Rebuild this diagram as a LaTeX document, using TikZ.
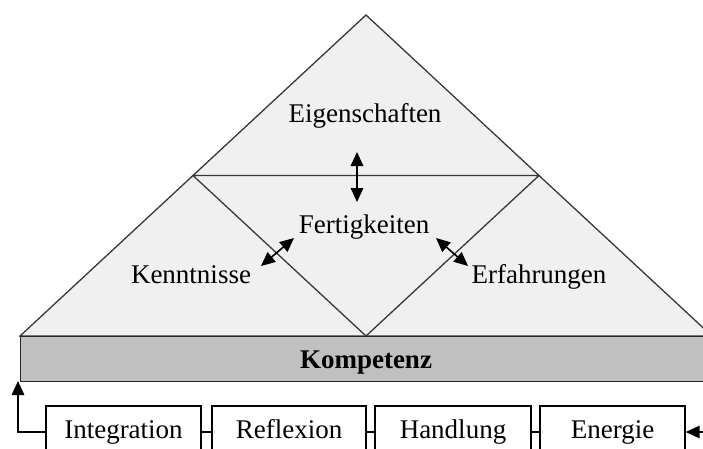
\documentclass[tikz,border=0pt]{standalone}
\usepackage{fontspec}
\setmainfont{Liberation Serif}
\usetikzlibrary{arrows.meta}
\definecolor{trifill}{HTML}{F0F0F0}
\definecolor{barfill}{HTML}{C0C0C0}
\definecolor{triline}{HTML}{383838}
\begin{document}
\begin{tikzpicture}[x=1pt,y=-1pt,
  tline/.style={draw=triline, line width=1.3pt, line join=miter},
  lbl/.style={font=\fontsize{27}{30}\selectfont, inner sep=0pt, anchor=base},
  barbox/.style={draw=black!85, fill=barfill, line width=1.4pt, anchor=north west, inner sep=0pt},
  stepbox/.style={draw=black, fill=white, line width=1.3pt, minimum height=52pt, inner sep=0pt,
    font=\fontsize{27}{30}\selectfont, text height=18pt, text depth=6pt},
  dbl/.style={line width=1.6pt, {Triangle[length=14pt,width=12.5pt]}-{Triangle[length=14pt,width=12.5pt]}},
  conn/.style={line width=1.4pt},
  connarrow/.style={line width=1.6pt, -{Triangle[length=14pt,width=12.5pt]}}
]
\useasboundingbox (0,0) rectangle (703,448);
\clip (0,0) rectangle (703,448);
% pyramid
\coordinate (A) at (366,15);
\coordinate (L) at (20,336);
\coordinate (R) at (712,336);
\coordinate (ML) at (193,175.5);
\coordinate (MR) at (539,175.5);
\coordinate (B) at (366,336);
\fill[trifill] (A) -- (L) -- (R) -- cycle;
\draw[tline] (A) -- (L) -- (R) -- cycle;
\draw[tline] (ML) -- (MR) -- (B) -- cycle;
% bar
\node[barbox, minimum width=692pt, minimum height=45pt] (bar) at (20,336) {};
\node[lbl, font=\fontsize{27}{30}\selectfont\bfseries] (komp) at (366,368) {Kompetenz};
% labels
\node[lbl] (eig) at (365,122) {Eigenschaften};
\node[lbl] (fer) at (364,233) {Fertigkeiten};
\node[lbl] (ken) at (191,283) {Kenntnisse};
\node[lbl] (erf) at (539,283) {Erfahrungen};
% double arrows
\coordinate (v1) at (357,152);
\coordinate (v2) at (357,202);
\coordinate (l1) at (261,266);
\coordinate (l2) at (294,238);
\coordinate (r1) at (436,238);
\coordinate (r2) at (468,266);
\draw[dbl] (v1) -- (v2);
\draw[dbl] (l1) -- (l2);
\draw[dbl] (r1) -- (r2);
% boxes
\node[stepbox, minimum width=155pt] (int) at (123.5,432) {Integration};
\node[stepbox, minimum width=154pt] (ref) at (289,432) {Reflexion};
\node[stepbox, minimum width=156pt] (han) at (453,432) {Handlung};
\node[stepbox, minimum width=145pt] (ene) at (612.5,432) {Energie};
\draw[conn] (int.east) -- (ref.west);
\draw[conn] (ref.east) -- (han.west);
\draw[conn] (han.east) -- (ene.west);
\coordinate (barin) at (18,381);
\coordinate (rin) at (712,432);
\draw[connarrow] (int.west) -| (barin);
\draw[connarrow] (rin) -- (ene.east);
\end{tikzpicture}
\end{document}
